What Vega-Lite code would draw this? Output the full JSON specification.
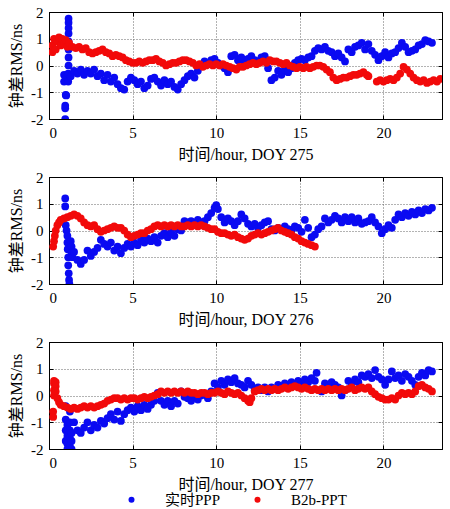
{
  "$schema": "https://vega.github.io/schema/vega-lite/v6.json",
  "background": "white",
  "padding": {"left": 8, "top": 4, "right": 0, "bottom": 3},
  "bounds": "flush",
  "spacing": 58,
  "config": {
    "view": {"stroke": "#000", "strokeWidth": 1},
    "axis": {
      "labelFont": "Liberation Serif",
      "labelFontSize": 15,
      "labelColor": "#000",
      "titleFont": "Liberation Serif, Noto Sans CJK SC",
      "titleFontSize": 16,
      "titleFontWeight": "normal",
      "titleColor": "#000",
      "tickColor": "#000",
      "tickSize": -4,
      "domainColor": "#000",
      "gridColor": "#666",
      "gridDash": [1, 2],
      "gridOpacity": 1,
      "labelPadding": 10
    },
    "legend": {
      "labelFont": "Liberation Serif, Noto Sans CJK SC",
      "labelFontSize": 15,
      "labelColor": "#000"
    }
  },
  "datasets": {
    "b275": [
      {"h":0.9,"v":-0.35},{"h":0.9,"v":-0.6},{"h":0.97,"v":-2.0},{"h":0.97,"v":-1.6},{"h":0.97,"v":-1.5},{"h":1.0,"v":-1.1},{"h":1.03,"v":-1.12},{"h":1.03,"v":-0.44},{"h":1.15,"v":-0.6},{"h":1.15,"v":-0.3},{"h":1.17,"v":0.0},{"h":1.17,"v":0.3},{"h":1.17,"v":0.6},{"h":1.17,"v":0.9},{"h":1.17,"v":1.2},{"h":1.17,"v":1.4},{"h":1.17,"v":1.6},{"h":1.17,"v":1.75},
      {"h":1.3,"v":-0.4},{"h":1.5,"v":-0.2},{"h":1.7,"v":-0.3},{"h":1.9,"v":-0.15},{"h":2.1,"v":-0.35},{"h":2.3,"v":-0.2},{"h":2.5,"v":-0.3},{"h":2.7,"v":-0.15},{"h":2.9,"v":-0.4},{"h":3.1,"v":-0.3},{"h":3.3,"v":-0.55},{"h":3.5,"v":-0.35},{"h":3.7,"v":-0.6},{"h":3.9,"v":-0.45},{"h":4.1,"v":-0.7},{"h":4.3,"v":-0.85},{"h":4.5,"v":-0.9},{"h":4.7,"v":-0.6},{"h":4.9,"v":-0.45},{"h":5.1,"v":-0.55},{"h":5.3,"v":-0.7},{"h":5.5,"v":-0.6},{"h":5.7,"v":-0.85},{"h":5.9,"v":-0.75},{"h":6.1,"v":-0.5},{"h":6.3,"v":-0.45},{"h":6.5,"v":-0.6},{"h":6.7,"v":-0.75},{"h":6.9,"v":-0.55},{"h":7.1,"v":-0.7},{"h":7.3,"v":-0.6},{"h":7.5,"v":-0.8},{"h":7.7,"v":-0.9},{"h":7.9,"v":-0.7},{"h":8.1,"v":-0.55},{"h":8.3,"v":-0.4},{"h":8.5,"v":-0.3},{"h":8.7,"v":-0.45},{"h":8.9,"v":-0.2},{"h":9.1,"v":0.0},{"h":9.3,"v":0.15},{"h":9.5,"v":0.05},{"h":9.7,"v":0.2},{"h":9.9,"v":0.25},{"h":10.1,"v":0.1},{"h":10.3,"v":0.0},{"h":10.5,"v":-0.1},{"h":10.7,"v":-0.25},{"h":10.9,"v":0.35},{"h":11.1,"v":0.4},{"h":11.3,"v":0.2},{"h":11.5,"v":0.3},{"h":11.7,"v":0.1},{"h":11.9,"v":0.25},{"h":12.1,"v":0.35},{"h":12.3,"v":0.2},{"h":12.5,"v":0.15},{"h":12.7,"v":0.3},{"h":12.9,"v":0.35},{"h":13.1,"v":-0.1},{"h":13.3,"v":-0.55},{"h":13.5,"v":-0.45},{"h":13.7,"v":-0.2},{"h":13.9,"v":-0.35},{"h":14.1,"v":-0.15},{"h":14.3,"v":-0.25},{"h":14.5,"v":-0.1},{"h":14.7,"v":0.1},{"h":14.9,"v":0.2},{"h":15.1,"v":0.25},{"h":15.3,"v":0.2},{"h":15.5,"v":0.3},{"h":15.7,"v":0.35},{"h":15.9,"v":0.55},{"h":16.1,"v":0.65},{"h":16.3,"v":0.6},{"h":16.5,"v":0.7},{"h":16.7,"v":0.55},{"h":16.9,"v":0.5},{"h":17.1,"v":0.35},{"h":17.3,"v":0.45},{"h":17.5,"v":0.3},{"h":17.7,"v":0.15},{"h":17.9,"v":0.6},{"h":18.1,"v":0.5},{"h":18.3,"v":0.7},{"h":18.5,"v":0.75},{"h":18.7,"v":0.85},{"h":18.9,"v":0.6},{"h":19.1,"v":0.8},{"h":19.3,"v":0.55},{"h":19.5,"v":0.4},{"h":19.7,"v":0.2},{"h":19.9,"v":0.35},{"h":20.1,"v":0.5},{"h":20.3,"v":0.3},{"h":20.5,"v":0.45},{"h":20.7,"v":0.5},{"h":20.9,"v":0.65},{"h":21.1,"v":0.85},{"h":21.3,"v":0.7},{"h":21.5,"v":0.5},{"h":21.7,"v":0.55},{"h":21.9,"v":0.6},{"h":22.1,"v":0.75},{"h":22.3,"v":0.8},{"h":22.5,"v":0.95},{"h":22.7,"v":0.9},{"h":22.9,"v":0.85}
    ],
    "r275": [
      {"h":0.2,"v":0.5},{"h":0.2,"v":0.75},{"h":0.3,"v":1.0},{"h":0.4,"v":0.6},{"h":0.5,"v":0.9},{"h":0.6,"v":1.05},{"h":0.7,"v":0.75},{"h":0.8,"v":1.0},{"h":0.9,"v":0.8},{"h":1.0,"v":0.95},{"h":1.1,"v":0.7},{"h":1.2,"v":0.85},{"h":1.4,"v":0.7},{"h":1.6,"v":0.65},{"h":1.8,"v":0.7},{"h":2.0,"v":0.6},{"h":2.2,"v":0.65},{"h":2.4,"v":0.5},{"h":2.6,"v":0.45},{"h":2.8,"v":0.5},{"h":3.0,"v":0.55},{"h":3.2,"v":0.6},{"h":3.4,"v":0.5},{"h":3.6,"v":0.45},{"h":3.8,"v":0.35},{"h":4.0,"v":0.4},{"h":4.2,"v":0.35},{"h":4.4,"v":0.3},{"h":4.6,"v":0.2},{"h":4.8,"v":0.15},{"h":5.0,"v":0.1},{"h":5.2,"v":0.1},{"h":5.4,"v":0.15},{"h":5.6,"v":0.1},{"h":5.8,"v":0.15},{"h":6.0,"v":0.2},{"h":6.2,"v":0.2},{"h":6.4,"v":0.25},{"h":6.6,"v":0.15},{"h":6.8,"v":0.1},{"h":7.0,"v":0.0},{"h":7.2,"v":0.05},{"h":7.4,"v":0.1},{"h":7.6,"v":0.1},{"h":7.8,"v":0.15},{"h":8.0,"v":0.2},{"h":8.2,"v":0.2},{"h":8.4,"v":0.15},{"h":8.6,"v":0.1},{"h":8.8,"v":0.0},{"h":9.0,"v":0.05},{"h":9.2,"v":-0.05},{"h":9.4,"v":0.0},{"h":9.6,"v":0.05},{"h":9.8,"v":0.0},{"h":10.0,"v":0.05},{"h":10.2,"v":0.0},{"h":10.4,"v":0.05},{"h":10.6,"v":0.0},{"h":10.8,"v":-0.05},{"h":11.0,"v":-0.1},{"h":11.2,"v":-0.15},{"h":11.4,"v":-0.05},{"h":11.6,"v":-0.05},{"h":11.8,"v":0.0},{"h":12.0,"v":0.05},{"h":12.2,"v":0.1},{"h":12.4,"v":0.05},{"h":12.6,"v":0.1},{"h":12.8,"v":0.15},{"h":13.0,"v":0.1},{"h":13.2,"v":0.2},{"h":13.4,"v":0.15},{"h":13.6,"v":0.15},{"h":13.8,"v":0.1},{"h":14.0,"v":0.05},{"h":14.2,"v":0.1},{"h":14.4,"v":0.0},{"h":14.6,"v":-0.05},{"h":14.8,"v":-0.1},{"h":15.0,"v":-0.05},{"h":15.2,"v":-0.1},{"h":15.4,"v":-0.05},{"h":15.6,"v":-0.1},{"h":15.8,"v":-0.05},{"h":16.0,"v":0.0},{"h":16.2,"v":0.0},{"h":16.4,"v":-0.05},{"h":16.6,"v":-0.15},{"h":16.8,"v":-0.25},{"h":17.0,"v":-0.45},{"h":17.2,"v":-0.55},{"h":17.4,"v":-0.5},{"h":17.6,"v":-0.45},{"h":17.8,"v":-0.45},{"h":18.0,"v":-0.4},{"h":18.2,"v":-0.35},{"h":18.4,"v":-0.35},{"h":18.6,"v":-0.3},{"h":18.8,"v":-0.25},{"h":19.0,"v":-0.35},{"h":19.1,"v":-0.4},{"h":19.6,"v":-0.6},{"h":19.8,"v":-0.55},{"h":20.0,"v":-0.6},{"h":20.2,"v":-0.55},{"h":20.4,"v":-0.5},{"h":20.6,"v":-0.55},{"h":20.8,"v":-0.45},{"h":21.0,"v":-0.3},{"h":21.2,"v":-0.05},{"h":21.4,"v":-0.15},{"h":21.6,"v":-0.3},{"h":21.8,"v":-0.45},{"h":22.0,"v":-0.55},{"h":22.2,"v":-0.6},{"h":22.4,"v":-0.55},{"h":22.6,"v":-0.65},{"h":22.8,"v":-0.6},{"h":23.0,"v":-0.55},{"h":23.2,"v":-0.6},{"h":23.4,"v":-0.5}
    ],
    "b276": [
      {"h":0.97,"v":1.2},{"h":0.97,"v":0.9},{"h":1.0,"v":0.2},{"h":1.05,"v":0.0},{"h":1.1,"v":-0.2},{"h":1.1,"v":-0.45},{"h":1.12,"v":-0.7},{"h":1.15,"v":-1.0},{"h":1.15,"v":-1.3},{"h":1.18,"v":-1.6},{"h":1.2,"v":-1.85},{"h":1.22,"v":-2.0},{"h":1.3,"v":-0.4},{"h":1.35,"v":-0.6},{"h":1.35,"v":-0.85},{"h":1.4,"v":-1.0},
      {"h":1.5,"v":-0.8},{"h":1.7,"v":-1.1},{"h":1.9,"v":-1.25},{"h":2.1,"v":-1.1},{"h":2.3,"v":-0.75},{"h":2.5,"v":-0.95},{"h":2.7,"v":-0.8},{"h":2.9,"v":-0.65},{"h":3.1,"v":-0.35},{"h":3.3,"v":-0.5},{"h":3.5,"v":-0.6},{"h":3.7,"v":-0.45},{"h":3.9,"v":-0.75},{"h":4.1,"v":-0.6},{"h":4.3,"v":-0.85},{"h":4.5,"v":-0.65},{"h":4.7,"v":-0.5},{"h":4.9,"v":-0.6},{"h":5.1,"v":-0.45},{"h":5.3,"v":-0.55},{"h":5.5,"v":-0.35},{"h":5.7,"v":-0.45},{"h":5.9,"v":-0.3},{"h":6.1,"v":-0.4},{"h":6.3,"v":-0.25},{"h":6.5,"v":-0.45},{"h":6.7,"v":-0.2},{"h":6.9,"v":-0.1},{"h":7.1,"v":-0.25},{"h":7.3,"v":-0.05},{"h":7.5,"v":-0.2},{"h":7.7,"v":0.05},{"h":7.9,"v":0.0},{"h":8.1,"v":0.35},{"h":8.3,"v":0.3},{"h":8.5,"v":0.35},{"h":8.7,"v":0.25},{"h":8.9,"v":0.4},{"h":9.1,"v":0.3},{"h":9.3,"v":0.35},{"h":9.5,"v":0.5},{"h":9.7,"v":0.65},{"h":9.9,"v":0.85},{"h":10.0,"v":0.95},{"h":10.1,"v":0.8},{"h":10.3,"v":0.5},{"h":10.5,"v":0.3},{"h":10.7,"v":0.45},{"h":10.9,"v":0.35},{"h":11.1,"v":0.2},{"h":11.3,"v":0.35},{"h":11.5,"v":0.6},{"h":11.7,"v":0.45},{"h":11.9,"v":0.25},{"h":12.1,"v":0.15},{"h":12.3,"v":0.25},{"h":12.5,"v":0.1},{"h":12.7,"v":0.2},{"h":12.9,"v":0.3},{"h":13.1,"v":0.35},{"h":13.3,"v":0.05},{"h":13.5,"v":0.0},{"h":13.7,"v":0.1},{"h":13.9,"v":0.05},{"h":14.1,"v":0.15},{"h":14.3,"v":0.05},{"h":14.5,"v":0.0},{"h":14.7,"v":0.15},{"h":14.9,"v":0.1},{"h":15.1,"v":-0.05},{"h":15.3,"v":0.4},{"h":15.5,"v":0.1},{"h":15.7,"v":-0.25},{"h":15.9,"v":-0.15},{"h":16.1,"v":0.05},{"h":16.3,"v":0.15},{"h":16.5,"v":0.45},{"h":16.7,"v":0.3},{"h":16.9,"v":0.4},{"h":17.1,"v":0.55},{"h":17.3,"v":0.45},{"h":17.5,"v":0.3},{"h":17.7,"v":0.5},{"h":17.9,"v":0.35},{"h":18.1,"v":0.5},{"h":18.3,"v":0.3},{"h":18.5,"v":0.45},{"h":18.7,"v":0.25},{"h":18.9,"v":0.3},{"h":19.1,"v":0.35},{"h":19.3,"v":0.5},{"h":19.5,"v":0.3},{"h":19.7,"v":0.15},{"h":19.9,"v":-0.1},{"h":20.1,"v":0.05},{"h":20.3,"v":0.2},{"h":20.5,"v":0.1},{"h":20.7,"v":0.4},{"h":20.9,"v":0.6},{"h":21.1,"v":0.5},{"h":21.3,"v":0.65},{"h":21.5,"v":0.55},{"h":21.7,"v":0.7},{"h":21.9,"v":0.6},{"h":22.1,"v":0.75},{"h":22.3,"v":0.65},{"h":22.5,"v":0.8},{"h":22.7,"v":0.75},{"h":22.9,"v":0.85}
    ],
    "r276": [
      {"h":0.25,"v":-0.6},{"h":0.3,"v":-0.4},{"h":0.35,"v":-0.2},{"h":0.4,"v":0.0},{"h":0.5,"v":0.2},{"h":0.6,"v":0.3},{"h":0.7,"v":0.4},{"h":0.9,"v":0.45},{"h":1.1,"v":0.5},{"h":1.3,"v":0.55},{"h":1.5,"v":0.6},{"h":1.7,"v":0.55},{"h":1.9,"v":0.45},{"h":2.1,"v":0.3},{"h":2.3,"v":0.2},{"h":2.5,"v":0.15},{"h":2.7,"v":0.2},{"h":2.9,"v":0.05},{"h":3.1,"v":-0.05},{"h":3.3,"v":0.0},{"h":3.5,"v":0.05},{"h":3.7,"v":0.1},{"h":3.9,"v":0.15},{"h":4.1,"v":0.1},{"h":4.3,"v":0.1},{"h":4.5,"v":0.0},{"h":4.7,"v":-0.15},{"h":4.9,"v":-0.25},{"h":5.1,"v":-0.2},{"h":5.3,"v":-0.15},{"h":5.5,"v":-0.1},{"h":5.7,"v":-0.1},{"h":5.9,"v":0.0},{"h":6.1,"v":0.05},{"h":6.3,"v":0.15},{"h":6.5,"v":0.2},{"h":6.7,"v":0.15},{"h":6.9,"v":0.2},{"h":7.1,"v":0.15},{"h":7.3,"v":0.2},{"h":7.5,"v":0.15},{"h":7.7,"v":0.2},{"h":7.9,"v":0.15},{"h":8.1,"v":0.15},{"h":8.3,"v":0.2},{"h":8.5,"v":0.15},{"h":8.7,"v":0.2},{"h":8.9,"v":0.15},{"h":9.1,"v":0.2},{"h":9.3,"v":0.15},{"h":9.5,"v":0.1},{"h":9.7,"v":0.05},{"h":9.9,"v":0.05},{"h":10.1,"v":-0.05},{"h":10.3,"v":-0.1},{"h":10.5,"v":-0.1},{"h":10.7,"v":-0.15},{"h":10.9,"v":-0.2},{"h":11.1,"v":-0.15},{"h":11.3,"v":-0.25},{"h":11.5,"v":-0.3},{"h":11.7,"v":-0.35},{"h":11.9,"v":-0.3},{"h":12.1,"v":-0.2},{"h":12.3,"v":-0.15},{"h":12.5,"v":-0.1},{"h":12.7,"v":-0.15},{"h":12.9,"v":-0.1},{"h":13.1,"v":-0.05},{"h":13.3,"v":0.0},{"h":13.5,"v":0.05},{"h":13.7,"v":0.1},{"h":13.9,"v":0.0},{"h":14.1,"v":-0.05},{"h":14.3,"v":-0.1},{"h":14.5,"v":-0.15},{"h":14.7,"v":-0.25},{"h":14.9,"v":-0.3},{"h":15.1,"v":-0.4},{"h":15.3,"v":-0.45},{"h":15.5,"v":-0.5},{"h":15.7,"v":-0.55},{"h":15.9,"v":-0.6}
    ],
    "b277": [
      {"h":1.0,"v":-0.4},{"h":1.0,"v":-0.9},{"h":1.0,"v":-1.3},{"h":1.0,"v":-1.7},{"h":1.1,"v":-1.5},{"h":1.1,"v":-1.8},{"h":1.1,"v":-2.0},{"h":1.1,"v":-1.1},{"h":1.25,"v":-1.9},{"h":1.25,"v":-1.6},{"h":1.25,"v":-1.3},{"h":1.25,"v":-1.0},{"h":1.25,"v":-0.6},{"h":1.35,"v":-2.0},{"h":1.35,"v":-1.7},{"h":1.35,"v":-1.4},
      {"h":1.5,"v":-1.0},{"h":1.7,"v":-1.3},{"h":1.9,"v":-1.4},{"h":2.1,"v":-1.2},{"h":2.3,"v":-1.0},{"h":2.5,"v":-1.3},{"h":2.7,"v":-1.1},{"h":2.9,"v":-1.2},{"h":3.1,"v":-0.95},{"h":3.3,"v":-1.05},{"h":3.5,"v":-0.85},{"h":3.7,"v":-0.7},{"h":3.9,"v":-0.9},{"h":4.1,"v":-0.6},{"h":4.3,"v":-0.95},{"h":4.5,"v":-0.7},{"h":4.7,"v":-0.55},{"h":4.9,"v":-0.45},{"h":5.1,"v":-0.6},{"h":5.3,"v":-0.4},{"h":5.5,"v":-0.55},{"h":5.7,"v":-0.35},{"h":5.9,"v":-0.5},{"h":6.1,"v":-0.35},{"h":6.3,"v":-0.2},{"h":6.5,"v":0.1},{"h":6.7,"v":-0.2},{"h":6.9,"v":-0.35},{"h":7.1,"v":-0.2},{"h":7.3,"v":-0.4},{"h":7.5,"v":-0.2},{"h":7.7,"v":-0.3},{"h":7.9,"v":0.15},{"h":8.1,"v":-0.05},{"h":8.3,"v":-0.1},{"h":8.5,"v":-0.2},{"h":8.7,"v":-0.05},{"h":8.9,"v":-0.15},{"h":9.1,"v":0.0},{"h":9.3,"v":0.05},{"h":9.5,"v":-0.1},{"h":9.7,"v":0.15},{"h":9.9,"v":0.45},{"h":10.1,"v":0.3},{"h":10.3,"v":0.55},{"h":10.5,"v":0.4},{"h":10.7,"v":0.6},{"h":10.9,"v":0.5},{"h":11.1,"v":0.65},{"h":11.3,"v":0.45},{"h":11.5,"v":0.4},{"h":11.7,"v":0.3},{"h":11.9,"v":0.55},{"h":12.1,"v":0.4},{"h":12.3,"v":0.2},{"h":12.5,"v":0.3},{"h":12.7,"v":0.2},{"h":12.9,"v":0.3},{"h":13.1,"v":0.15},{"h":13.3,"v":0.3},{"h":13.5,"v":0.25},{"h":13.7,"v":0.4},{"h":13.9,"v":0.3},{"h":14.1,"v":0.45},{"h":14.3,"v":0.35},{"h":14.5,"v":0.5},{"h":14.7,"v":0.4},{"h":14.9,"v":0.55},{"h":15.1,"v":0.45},{"h":15.3,"v":0.6},{"h":15.5,"v":0.5},{"h":15.7,"v":0.65},{"h":15.9,"v":0.55},{"h":16.0,"v":0.85},{"h":16.3,"v":0.15},{"h":16.5,"v":0.45},{"h":16.7,"v":0.35},{"h":16.9,"v":0.5},{"h":17.1,"v":0.4},{"h":17.3,"v":0.3},{"h":17.5,"v":0.0},{"h":17.7,"v":0.2},{"h":17.9,"v":0.55},{"h":18.1,"v":0.45},{"h":18.3,"v":0.6},{"h":18.5,"v":0.5},{"h":18.7,"v":0.75},{"h":18.9,"v":0.7},{"h":19.1,"v":0.8},{"h":19.3,"v":0.65},{"h":19.5,"v":0.95},{"h":19.7,"v":0.7},{"h":19.9,"v":0.6},{"h":20.1,"v":0.4},{"h":20.3,"v":0.6},{"h":20.5,"v":0.9},{"h":20.7,"v":0.65},{"h":20.9,"v":0.75},{"h":21.1,"v":0.55},{"h":21.3,"v":0.8},{"h":21.5,"v":0.7},{"h":21.7,"v":0.55},{"h":21.9,"v":0.4},{"h":22.1,"v":0.7},{"h":22.3,"v":0.85},{"h":22.5,"v":0.75},{"h":22.7,"v":0.95},{"h":22.9,"v":0.9}
    ],
    "r277": [
      {"h":0.25,"v":-0.6},{"h":0.25,"v":-0.8},{"h":0.3,"v":0.0},{"h":0.3,"v":0.2},{"h":0.3,"v":0.45},{"h":0.3,"v":0.55},{"h":0.4,"v":0.35},{"h":0.4,"v":0.5},{"h":0.4,"v":0.15},{"h":0.5,"v":-0.1},{"h":0.6,"v":-0.25},{"h":0.7,"v":-0.35},{"h":0.9,"v":-0.4},{"h":1.1,"v":-0.45},{"h":1.3,"v":-0.5},{"h":1.5,"v":-0.45},{"h":1.7,"v":-0.5},{"h":1.9,"v":-0.45},{"h":2.1,"v":-0.4},{"h":2.3,"v":-0.45},{"h":2.5,"v":-0.4},{"h":2.7,"v":-0.45},{"h":2.9,"v":-0.4},{"h":3.1,"v":-0.35},{"h":3.3,"v":-0.3},{"h":3.5,"v":-0.2},{"h":3.7,"v":-0.15},{"h":3.9,"v":-0.1},{"h":4.1,"v":-0.1},{"h":4.3,"v":-0.15},{"h":4.5,"v":-0.1},{"h":4.7,"v":-0.15},{"h":4.9,"v":-0.1},{"h":5.1,"v":-0.1},{"h":5.3,"v":-0.15},{"h":5.5,"v":-0.1},{"h":5.7,"v":-0.05},{"h":5.9,"v":-0.1},{"h":6.1,"v":-0.05},{"h":6.3,"v":0.0},{"h":6.5,"v":0.05},{"h":6.7,"v":0.15},{"h":6.9,"v":0.1},{"h":7.1,"v":0.15},{"h":7.3,"v":0.1},{"h":7.5,"v":0.15},{"h":7.7,"v":0.1},{"h":7.9,"v":0.15},{"h":8.1,"v":0.1},{"h":8.3,"v":0.15},{"h":8.5,"v":0.1},{"h":8.7,"v":0.1},{"h":8.9,"v":0.05},{"h":9.1,"v":0.1},{"h":9.3,"v":0.1},{"h":9.5,"v":0.05},{"h":9.7,"v":0.1},{"h":9.9,"v":0.1},{"h":10.1,"v":0.15},{"h":10.3,"v":0.1},{"h":10.5,"v":0.05},{"h":10.7,"v":0.15},{"h":10.9,"v":0.1},{"h":11.1,"v":0.05},{"h":11.3,"v":0.1},{"h":11.5,"v":0.0},{"h":11.7,"v":-0.1},{"h":11.9,"v":-0.2},{"h":12.0,"v":-0.25},{"h":12.1,"v":-0.1},{"h":12.3,"v":0.15},{"h":12.5,"v":0.2},{"h":12.7,"v":0.25},{"h":12.9,"v":0.2},{"h":13.1,"v":0.25},{"h":13.3,"v":0.2},{"h":13.5,"v":0.25},{"h":13.7,"v":0.2},{"h":13.9,"v":0.25},{"h":14.1,"v":0.3},{"h":14.3,"v":0.25},{"h":14.5,"v":0.3},{"h":14.7,"v":0.35},{"h":14.9,"v":0.3},{"h":15.1,"v":0.25},{"h":15.3,"v":0.3},{"h":15.5,"v":0.25},{"h":15.7,"v":0.2},{"h":15.9,"v":0.25},{"h":16.1,"v":0.2},{"h":16.3,"v":0.25},{"h":16.5,"v":0.2},{"h":16.7,"v":0.25},{"h":16.9,"v":0.2},{"h":17.1,"v":0.25},{"h":17.3,"v":0.2},{"h":17.5,"v":0.25},{"h":17.7,"v":0.2},{"h":17.9,"v":0.25},{"h":18.1,"v":0.3},{"h":18.3,"v":0.2},{"h":18.5,"v":0.25},{"h":18.7,"v":0.3},{"h":18.9,"v":0.25},{"h":19.1,"v":0.3},{"h":19.3,"v":0.15},{"h":19.5,"v":0.05},{"h":19.7,"v":-0.05},{"h":19.9,"v":-0.1},{"h":20.1,"v":-0.15},{"h":20.3,"v":-0.15},{"h":20.5,"v":-0.1},{"h":20.7,"v":-0.15},{"h":20.9,"v":0.0},{"h":21.1,"v":0.1},{"h":21.3,"v":0.05},{"h":21.5,"v":0.1},{"h":21.7,"v":0.05},{"h":21.9,"v":0.15},{"h":22.1,"v":0.35},{"h":22.3,"v":0.4},{"h":22.5,"v":0.3},{"h":22.7,"v":0.25},{"h":22.9,"v":0.15}
    ]
  },
  "vconcat": [
    {
      "width": 393, "height": 107,
      "layer": [
        {"data": {"name": "b275"}, "mark": {"type": "circle", "size": 60, "opacity": 1, "clip": true},
         "encoding": {
           "x": {"field": "h", "type": "quantitative", "scale": {"domain": [0, 23.5], "nice": false}, "axis": {"orient": "bottom", "values": [0, 5, 10, 15, 20], "title": "时间/hour, DOY 275", "labelExpr": "'' + datum.value", "titlePadding": 6}},
           "y": {"field": "v", "type": "quantitative", "scale": {"domain": [-2, 2], "nice": false}, "axis": {"orient": "left", "values": [-2, -1, 0, 1, 2], "title": "钟差RMS/ns", "labelExpr": "'' + datum.value", "titlePadding": 6}},
           "color": {"datum": "实时PPP", "type": "nominal", "scale": {"domain": ["实时PPP", "B2b-PPT"], "range": ["#0a0af2", "#f20a0a"]}, "legend": {"orient": "none", "legendX": 75, "legendY": 480, "direction": "horizontal", "title": null, "symbolType": "circle", "symbolSize": 36, "symbolOpacity": 1, "labelOffset": 26, "columnPadding": 29}}
         }},
        {"data": {"name": "r275"}, "mark": {"type": "circle", "size": 60, "opacity": 1, "clip": true},
         "encoding": {
           "x": {"field": "h", "type": "quantitative", "axis": {"orient": "top", "values": [0, 5, 10, 15, 20], "labels": false, "title": null, "grid": false}},
           "y": {"field": "v", "type": "quantitative", "axis": {"orient": "right", "values": [-2, -1, 0, 1, 2], "labels": false, "title": null, "grid": false}},
           "color": {"datum": "B2b-PPT", "type": "nominal"}
         }}
      ],
      "resolve": {"axis": {"x": "independent", "y": "independent"}}
    },
    {
      "width": 393, "height": 107,
      "layer": [
        {"data": {"name": "b276"}, "mark": {"type": "circle", "size": 60, "opacity": 1, "clip": true},
         "encoding": {
           "x": {"field": "h", "type": "quantitative", "scale": {"domain": [0, 23.5], "nice": false}, "axis": {"orient": "bottom", "values": [0, 5, 10, 15, 20], "title": "时间/hour, DOY 276", "labelExpr": "'' + datum.value", "titlePadding": 6}},
           "y": {"field": "v", "type": "quantitative", "scale": {"domain": [-2, 2], "nice": false}, "axis": {"orient": "left", "values": [-2, -1, 0, 1, 2], "title": "钟差RMS/ns", "labelExpr": "'' + datum.value", "titlePadding": 6}},
           "color": {"datum": "实时PPP", "type": "nominal"}
         }},
        {"data": {"name": "r276"}, "mark": {"type": "circle", "size": 60, "opacity": 1, "clip": true},
         "encoding": {
           "x": {"field": "h", "type": "quantitative", "axis": {"orient": "top", "values": [0, 5, 10, 15, 20], "labels": false, "title": null, "grid": false}},
           "y": {"field": "v", "type": "quantitative", "axis": {"orient": "right", "values": [-2, -1, 0, 1, 2], "labels": false, "title": null, "grid": false}},
           "color": {"datum": "B2b-PPT", "type": "nominal"}
         }}
      ],
      "resolve": {"axis": {"x": "independent", "y": "independent"}}
    },
    {
      "width": 393, "height": 107,
      "layer": [
        {"data": {"name": "b277"}, "mark": {"type": "circle", "size": 60, "opacity": 1, "clip": true},
         "encoding": {
           "x": {"field": "h", "type": "quantitative", "scale": {"domain": [0, 23.5], "nice": false}, "axis": {"orient": "bottom", "values": [0, 5, 10, 15, 20], "title": "时间/hour, DOY 277", "labelExpr": "'' + datum.value", "titlePadding": 6}},
           "y": {"field": "v", "type": "quantitative", "scale": {"domain": [-2, 2], "nice": false}, "axis": {"orient": "left", "values": [-2, -1, 0, 1, 2], "title": "钟差RMS/ns", "labelExpr": "'' + datum.value", "titlePadding": 6}},
           "color": {"datum": "实时PPP", "type": "nominal"}
         }},
        {"data": {"name": "r277"}, "mark": {"type": "circle", "size": 60, "opacity": 1, "clip": true},
         "encoding": {
           "x": {"field": "h", "type": "quantitative", "axis": {"orient": "top", "values": [0, 5, 10, 15, 20], "labels": false, "title": null, "grid": false}},
           "y": {"field": "v", "type": "quantitative", "axis": {"orient": "right", "values": [-2, -1, 0, 1, 2], "labels": false, "title": null, "grid": false}},
           "color": {"datum": "B2b-PPT", "type": "nominal"}
         }}
      ],
      "resolve": {"axis": {"x": "independent", "y": "independent"}}
    }
  ]
}
